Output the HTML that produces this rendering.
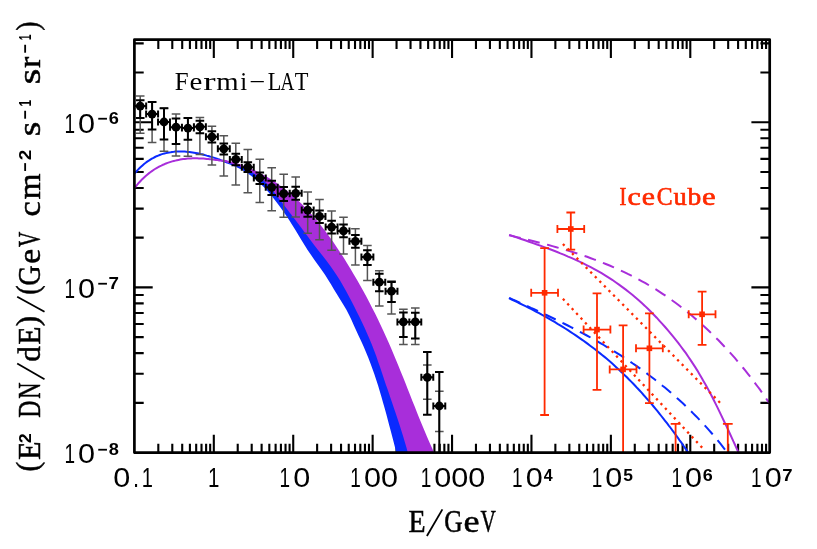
<!DOCTYPE html>
<html><head><meta charset="utf-8"><title>Fermi-LAT / IceCube spectrum</title>
<style>html,body{margin:0;padding:0;background:#fff}svg{display:block;will-change:transform}</style></head>
<body><svg width="817" height="549" viewBox="0 0 817 549">
<rect width="817" height="549" fill="#fff"/>
<path d="M158.31 452.6 V443.8 M158.31 39.6 V48.900000000000006 M172.29 452.6 V443.8 M172.29 39.6 V48.900000000000006 M182.21 452.6 V443.8 M182.21 39.6 V48.900000000000006 M189.91 452.6 V443.8 M189.91 39.6 V48.900000000000006 M196.19 452.6 V443.8 M196.19 39.6 V48.900000000000006 M201.51 452.6 V443.8 M201.51 39.6 V48.900000000000006 M206.12 452.6 V443.8 M206.12 39.6 V48.900000000000006 M210.18 452.6 V443.8 M210.18 39.6 V48.900000000000006 M213.81 452.6 V434.8 M213.81 39.6 V57.900000000000006 M237.72 452.6 V443.8 M237.72 39.6 V48.900000000000006 M251.70 452.6 V443.8 M251.70 39.6 V48.900000000000006 M261.62 452.6 V443.8 M261.62 39.6 V48.900000000000006 M269.32 452.6 V443.8 M269.32 39.6 V48.900000000000006 M275.61 452.6 V443.8 M275.61 39.6 V48.900000000000006 M280.92 452.6 V443.8 M280.92 39.6 V48.900000000000006 M285.53 452.6 V443.8 M285.53 39.6 V48.900000000000006 M289.59 452.6 V443.8 M289.59 39.6 V48.900000000000006 M293.23 452.6 V434.8 M293.23 39.6 V57.900000000000006 M317.13 452.6 V443.8 M317.13 39.6 V48.900000000000006 M331.11 452.6 V443.8 M331.11 39.6 V48.900000000000006 M341.04 452.6 V443.8 M341.04 39.6 V48.900000000000006 M348.73 452.6 V443.8 M348.73 39.6 V48.900000000000006 M355.02 452.6 V443.8 M355.02 39.6 V48.900000000000006 M360.34 452.6 V443.8 M360.34 39.6 V48.900000000000006 M364.94 452.6 V443.8 M364.94 39.6 V48.900000000000006 M369.00 452.6 V443.8 M369.00 39.6 V48.900000000000006 M372.64 452.6 V434.8 M372.64 39.6 V57.900000000000006 M396.54 452.6 V443.8 M396.54 39.6 V48.900000000000006 M410.53 452.6 V443.8 M410.53 39.6 V48.900000000000006 M420.45 452.6 V443.8 M420.45 39.6 V48.900000000000006 M428.14 452.6 V443.8 M428.14 39.6 V48.900000000000006 M434.43 452.6 V443.8 M434.43 39.6 V48.900000000000006 M439.75 452.6 V443.8 M439.75 39.6 V48.900000000000006 M444.35 452.6 V443.8 M444.35 39.6 V48.900000000000006 M448.42 452.6 V443.8 M448.42 39.6 V48.900000000000006 M452.05 452.6 V434.8 M452.05 39.6 V57.900000000000006 M475.96 452.6 V443.8 M475.96 39.6 V48.900000000000006 M489.94 452.6 V443.8 M489.94 39.6 V48.900000000000006 M499.86 452.6 V443.8 M499.86 39.6 V48.900000000000006 M507.56 452.6 V443.8 M507.56 39.6 V48.900000000000006 M513.84 452.6 V443.8 M513.84 39.6 V48.900000000000006 M519.16 452.6 V443.8 M519.16 39.6 V48.900000000000006 M523.77 452.6 V443.8 M523.77 39.6 V48.900000000000006 M527.83 452.6 V443.8 M527.83 39.6 V48.900000000000006 M531.46 452.6 V434.8 M531.46 39.6 V57.900000000000006 M555.37 452.6 V443.8 M555.37 39.6 V48.900000000000006 M569.35 452.6 V443.8 M569.35 39.6 V48.900000000000006 M579.27 452.6 V443.8 M579.27 39.6 V48.900000000000006 M586.97 452.6 V443.8 M586.97 39.6 V48.900000000000006 M593.26 452.6 V443.8 M593.26 39.6 V48.900000000000006 M598.57 452.6 V443.8 M598.57 39.6 V48.900000000000006 M603.18 452.6 V443.8 M603.18 39.6 V48.900000000000006 M607.24 452.6 V443.8 M607.24 39.6 V48.900000000000006 M610.88 452.6 V434.8 M610.88 39.6 V57.900000000000006 M634.78 452.6 V443.8 M634.78 39.6 V48.900000000000006 M648.76 452.6 V443.8 M648.76 39.6 V48.900000000000006 M658.69 452.6 V443.8 M658.69 39.6 V48.900000000000006 M666.38 452.6 V443.8 M666.38 39.6 V48.900000000000006 M672.67 452.6 V443.8 M672.67 39.6 V48.900000000000006 M677.99 452.6 V443.8 M677.99 39.6 V48.900000000000006 M682.59 452.6 V443.8 M682.59 39.6 V48.900000000000006 M686.65 452.6 V443.8 M686.65 39.6 V48.900000000000006 M690.29 452.6 V434.8 M690.29 39.6 V57.900000000000006 M714.19 452.6 V443.8 M714.19 39.6 V48.900000000000006 M728.18 452.6 V443.8 M728.18 39.6 V48.900000000000006 M738.10 452.6 V443.8 M738.10 39.6 V48.900000000000006 M745.79 452.6 V443.8 M745.79 39.6 V48.900000000000006 M752.08 452.6 V443.8 M752.08 39.6 V48.900000000000006 M757.40 452.6 V443.8 M757.40 39.6 V48.900000000000006 M762.00 452.6 V443.8 M762.00 39.6 V48.900000000000006 M766.07 452.6 V443.8 M766.07 39.6 V48.900000000000006 M134.4 402.87 H143.70000000000002 M769.7 402.87 H760.4000000000001 M134.4 373.78 H143.70000000000002 M769.7 373.78 H760.4000000000001 M134.4 353.14 H143.70000000000002 M769.7 353.14 H760.4000000000001 M134.4 337.13 H143.70000000000002 M769.7 337.13 H760.4000000000001 M134.4 324.05 H143.70000000000002 M769.7 324.05 H760.4000000000001 M134.4 312.99 H143.70000000000002 M769.7 312.99 H760.4000000000001 M134.4 303.41 H143.70000000000002 M769.7 303.41 H760.4000000000001 M134.4 294.96 H143.70000000000002 M769.7 294.96 H760.4000000000001 M134.4 287.40 H152.70000000000002 M769.7 287.40 H751.4000000000001 M134.4 237.67 H143.70000000000002 M769.7 237.67 H760.4000000000001 M134.4 208.58 H143.70000000000002 M769.7 208.58 H760.4000000000001 M134.4 187.94 H143.70000000000002 M769.7 187.94 H760.4000000000001 M134.4 171.93 H143.70000000000002 M769.7 171.93 H760.4000000000001 M134.4 158.85 H143.70000000000002 M769.7 158.85 H760.4000000000001 M134.4 147.79 H143.70000000000002 M769.7 147.79 H760.4000000000001 M134.4 138.21 H143.70000000000002 M769.7 138.21 H760.4000000000001 M134.4 129.76 H143.70000000000002 M769.7 129.76 H760.4000000000001 M134.4 122.20 H152.70000000000002 M769.7 122.20 H751.4000000000001 M134.4 72.47 H143.70000000000002 M769.7 72.47 H760.4000000000001 M134.4 43.38 H143.70000000000002 M769.7 43.38 H760.4000000000001" stroke="#000" stroke-width="2.1" fill="none"/>
<clipPath id="c"><rect x="134.4" y="39.6" width="635.3000000000001" height="413.0"/></clipPath>
<g clip-path="url(#c)">
<polygon points="224.9,162.7 230.6,164.7 236.1,166.9 241.3,169.5 246.3,172.5 251.1,175.8 255.7,179.4 260.1,183.4 264.3,187.6 268.3,192.0 272.1,196.5 275.8,201.2 279.4,205.9 282.8,210.7 286.1,215.5 289.3,220.3 292.4,225.2 295.4,230.1 298.4,235.0 301.4,239.9 304.5,244.9 307.6,249.9 310.9,254.8 314.3,259.8 317.9,264.8 321.5,269.7 325.0,274.7 328.1,279.7 331.1,284.6 334.0,289.6 337.1,294.6 340.3,299.7 343.4,304.7 346.4,309.8 349.1,314.9 351.5,320.1 353.8,325.3 356.2,330.5 358.6,335.8 361.1,341.1 363.6,346.4 365.9,351.9 368.1,357.3 370.3,362.9 372.3,368.4 374.3,374.0 376.1,379.6 378.0,385.3 379.7,391.0 381.4,396.7 383.0,402.4 384.6,408.1 386.2,413.8 387.7,419.5 389.2,425.2 390.7,430.8 392.2,436.5 393.7,442.2 395.1,447.8 396.6,453.4 433.5,454.6 430.9,448.8 428.3,442.9 425.7,437.0 423.2,431.1 420.8,425.3 418.4,419.4 416.0,413.5 413.7,407.6 411.3,401.7 409.0,395.8 406.7,390.0 404.4,384.1 402.1,378.2 399.7,372.4 397.3,366.5 394.9,360.7 392.5,354.9 390.0,349.1 387.5,343.3 384.9,337.5 382.3,331.7 379.6,326.0 376.9,320.3 374.1,314.6 371.2,308.9 368.3,303.3 365.3,297.6 362.3,292.0 359.2,286.5 356.1,280.9 352.8,275.4 349.6,270.0 346.2,264.5 342.9,259.1 339.4,253.7 335.9,248.4 332.3,243.1 328.6,237.9 324.8,232.8 320.9,227.8 317.0,222.8 312.9,218.0 308.7,213.3 304.5,208.7 300.0,204.2 295.5,199.9 290.8,195.7 286.0,191.7 281.1,187.9 276.0,184.2 270.8,180.7 265.4,177.4 259.9,174.4 254.2,171.5 248.4,168.9 242.4,166.5 236.3,164.3 230.1,162.4 223.6,160.8" fill="#0A2AFF"/>
<polygon points="224.9,162.2 230.8,163.6 236.5,165.4 242.2,167.5 247.8,170.0 253.1,172.9 258.1,176.2 262.9,179.9 267.2,184.1 271.2,188.6 274.9,193.3 278.6,198.2 282.3,203.0 286.0,207.8 289.6,212.6 293.3,217.3 296.9,222.0 300.5,226.7 304.0,231.5 307.6,236.2 311.1,240.9 314.7,245.7 318.4,250.5 322.2,255.3 326.1,260.2 329.8,265.2 333.3,270.2 336.7,275.2 339.9,280.3 342.9,285.5 345.9,290.7 348.7,295.9 351.5,301.2 354.2,306.5 356.9,311.9 359.6,317.3 362.2,322.7 364.8,328.2 367.2,333.7 369.6,339.3 371.9,344.8 374.1,350.4 376.2,356.0 378.1,361.7 380.1,367.3 382.0,373.0 383.9,378.7 385.8,384.4 387.8,390.1 389.8,395.9 391.7,401.6 393.7,407.4 395.6,413.1 397.6,418.9 399.5,424.7 401.3,430.4 403.1,436.2 404.8,442.0 406.5,447.7 408.0,453.5 434.5,453.6 431.9,447.8 429.3,441.9 426.7,436.0 424.2,430.1 421.8,424.3 419.4,418.4 417.0,412.5 414.7,406.6 412.3,400.7 410.0,394.8 407.7,389.0 405.4,383.1 403.1,377.2 400.7,371.4 398.3,365.5 395.9,359.7 393.5,353.9 391.0,348.1 388.5,342.3 385.9,336.5 383.3,330.7 380.6,325.0 377.9,319.3 375.1,313.6 372.2,307.9 369.3,302.3 366.3,296.6 363.3,291.0 360.2,285.5 357.1,279.9 353.8,274.4 350.6,269.0 347.2,263.5 343.9,258.1 340.4,252.7 336.9,247.4 333.3,242.1 329.6,236.9 325.8,231.8 321.9,226.8 318.0,221.8 313.9,217.0 309.7,212.3 305.5,207.7 301.0,203.2 296.5,198.9 291.8,194.7 287.0,190.7 282.1,186.9 277.0,183.2 271.8,179.7 266.4,176.4 260.9,173.4 255.2,170.5 249.4,167.9 243.4,165.5 237.3,163.3 231.1,161.4 224.6,159.8" fill="#A82EDA"/>
</g>
<path d="M134.7 173.3 L136.3 171.5 L137.8 169.9 L139.4 168.3 L141.0 166.8 L142.5 165.4 L144.1 164.0 L145.7 162.8 L147.2 161.6 L148.8 160.6 L150.3 159.6 L151.9 158.6 L153.5 157.8 L155.0 157.0 L156.6 156.2 L158.2 155.6 L159.7 155.0 L161.3 154.4 L162.9 153.9 L164.4 153.5 L166.0 153.1 L167.6 152.7 L169.1 152.4 L170.7 152.2 L172.2 151.9 L173.8 151.8 L175.4 151.6 L176.9 151.6 L178.5 151.5 L180.1 151.5 L181.6 151.5 L183.2 151.5 L184.8 151.6 L186.3 151.7 L187.9 151.9 L189.5 152.1 L191.0 152.3 L192.6 152.5 L194.1 152.7 L195.7 153.0 L197.3 153.3 L198.8 153.6 L200.4 154.0 L202.0 154.3 L203.5 154.7 L205.1 155.1 L206.7 155.6 L208.2 156.0 L209.8 156.5 L211.4 156.9 L212.9 157.4 L214.5 157.9 L216.0 158.4 L217.6 159.0 L219.2 159.5 L220.7 160.1 L222.3 160.6 L223.9 161.2 L225.4 161.7 L227.0 162.3" stroke="#0A2AFF" stroke-width="2" fill="none" stroke-linejoin="round"/>
<path d="M134.7 187.9 L136.3 185.9 L137.8 184.0 L139.4 182.2 L141.0 180.5 L142.5 178.9 L144.1 177.4 L145.7 176.0 L147.2 174.7 L148.8 173.4 L150.3 172.2 L151.9 171.1 L153.5 170.0 L155.0 169.0 L156.6 168.1 L158.2 167.2 L159.7 166.3 L161.3 165.6 L162.9 164.8 L164.4 164.2 L166.0 163.5 L167.6 162.9 L169.1 162.4 L170.7 161.9 L172.2 161.4 L173.8 161.0 L175.4 160.6 L176.9 160.2 L178.5 159.9 L180.1 159.6 L181.6 159.3 L183.2 159.1 L184.8 158.9 L186.3 158.7 L187.9 158.6 L189.5 158.5 L191.0 158.4 L192.6 158.3 L194.1 158.3 L195.7 158.3 L197.3 158.3 L198.8 158.4 L200.4 158.4 L202.0 158.5 L203.5 158.6 L205.1 158.7 L206.7 158.9 L208.2 159.0 L209.8 159.2 L211.4 159.3 L212.9 159.5 L214.5 159.7 L216.0 159.9 L217.6 160.1 L219.2 160.4 L220.7 160.6 L222.3 160.8 L223.9 161.0 L225.4 161.2 L227.0 161.4" stroke="#A82EDA" stroke-width="2" fill="none" stroke-linejoin="round"/>
<path d="M509.0 235.2 L513.0 236.1 L517.0 237.1 L520.9 238.0 L524.9 239.0 L528.8 240.0 L532.8 241.0 L536.7 242.0 L540.6 243.0 L544.5 244.0 L548.5 245.0 L552.4 246.1 L556.3 247.2 L560.2 248.3 L564.0 249.4 L567.9 250.6 L571.8 251.8 L575.6 253.0 L579.4 254.2 L583.2 255.5 L587.1 256.8 L590.8 258.2 L594.6 259.6 L598.4 261.0 L602.1 262.5 L605.8 264.0 L609.6 265.5 L613.2 267.1 L616.9 268.7 L620.6 270.4 L624.2 272.1 L627.8 273.9 L631.4 275.6 L635.0 277.5 L638.5 279.4 L642.0 281.3 L645.5 283.2 L649.0 285.3 L652.4 287.3 L655.9 289.4 L659.3 291.6 L662.6 293.8 L666.0 296.0 L669.3 298.3 L672.6 300.7 L675.8 303.0 L679.1 305.5 L682.3 307.9 L685.4 310.4 L688.6 313.0 L691.7 315.5 L694.8 318.2 L697.9 320.8 L700.9 323.5 L703.9 326.2 L706.9 329.0 L709.8 331.8 L712.7 334.6 L715.6 337.5 L718.5 340.3 L721.3 343.3 L724.1 346.2 L726.9 349.2 L729.6 352.2 L732.3 355.2 L735.0 358.2 L737.6 361.3 L740.2 364.4 L742.8 367.5 L745.4 370.6 L747.9 373.8 L750.4 376.9 L752.8 380.1 L755.2 383.3 L757.6 386.5 L760.0 389.7 L762.3 393.0 L764.6 396.2 L766.8 399.5 L769.1 402.8" stroke="#A82EDA" stroke-width="2" fill="none" stroke-dasharray="12 7.6"/>
<path d="M509.2 234.9 L513.2 236.2 L517.2 237.6 L521.2 239.0 L525.1 240.3 L529.1 241.7 L533.0 243.1 L537.0 244.5 L540.9 245.9 L544.9 247.4 L548.8 248.8 L552.7 250.3 L556.6 251.8 L560.4 253.4 L564.3 254.9 L568.1 256.6 L571.9 258.2 L575.7 259.9 L579.5 261.6 L583.3 263.4 L587.0 265.3 L590.7 267.2 L594.3 269.1 L598.0 271.1 L601.6 273.2 L605.1 275.3 L608.7 277.6 L612.2 279.8 L615.6 282.2 L619.0 284.6 L622.4 287.1 L625.8 289.6 L629.1 292.2 L632.3 294.8 L635.5 297.5 L638.7 300.3 L641.8 303.1 L644.9 305.9 L647.9 308.8 L650.9 311.7 L653.8 314.7 L656.7 317.7 L659.5 320.8 L662.3 323.8 L665.1 327.0 L667.8 330.1 L670.5 333.3 L673.2 336.6 L675.8 339.8 L678.4 343.1 L680.9 346.5 L683.4 349.8 L685.9 353.2 L688.3 356.7 L690.6 360.1 L692.9 363.6 L695.2 367.1 L697.4 370.6 L699.5 374.2 L701.6 377.8 L703.7 381.4 L705.8 385.0 L707.8 388.6 L709.7 392.3 L711.7 396.0 L713.6 399.7 L715.4 403.4 L717.3 407.1 L719.1 410.9 L720.9 414.6 L722.7 418.4 L724.5 422.2 L726.3 425.9 L728.1 429.7 L729.8 433.5 L731.6 437.3 L733.3 441.2 L735.1 445.0 L736.8 448.8 L738.6 452.6" stroke="#A82EDA" stroke-width="2" fill="none"/>
<path d="M509.3 297.8 L512.4 299.3 L515.5 300.7 L518.6 302.1 L521.7 303.5 L524.8 304.9 L527.9 306.3 L531.0 307.8 L534.1 309.2 L537.2 310.7 L540.2 312.1 L543.3 313.6 L546.4 315.0 L549.5 316.5 L552.6 318.0 L555.6 319.5 L558.7 321.0 L561.7 322.5 L564.8 324.0 L567.8 325.5 L570.9 327.1 L573.9 328.6 L576.9 330.2 L579.9 331.8 L582.9 333.4 L585.9 335.0 L588.9 336.6 L591.9 338.3 L594.9 339.9 L597.8 341.6 L600.8 343.3 L603.7 345.0 L606.6 346.8 L609.6 348.5 L612.5 350.3 L615.4 352.1 L618.3 353.9 L621.1 355.7 L624.0 357.6 L626.8 359.5 L629.7 361.3 L632.5 363.3 L635.3 365.2 L638.1 367.1 L640.9 369.1 L643.6 371.1 L646.4 373.1 L649.1 375.2 L651.8 377.2 L654.5 379.3 L657.2 381.4 L659.9 383.5 L662.5 385.7 L665.2 387.8 L667.8 390.0 L670.4 392.2 L673.0 394.5 L675.5 396.7 L678.1 399.0 L680.6 401.3 L683.1 403.6 L685.6 405.9 L688.0 408.3 L690.5 410.7 L692.9 413.1 L695.3 415.5 L697.7 417.9 L700.0 420.4 L702.4 422.9 L704.7 425.4 L707.0 427.9 L709.2 430.4 L711.5 433.0 L713.7 435.6 L715.9 438.2 L718.1 440.8 L720.2 443.4 L722.3 446.1 L724.4 448.8 L726.5 451.5" stroke="#0A2AFF" stroke-width="2" fill="none" stroke-dasharray="12 7.6"/>
<path d="M508.9 298.2 L511.7 299.5 L514.5 300.8 L517.3 302.1 L520.0 303.5 L522.8 304.8 L525.5 306.2 L528.3 307.5 L531.0 308.9 L533.7 310.3 L536.4 311.8 L539.1 313.2 L541.7 314.7 L544.4 316.1 L547.1 317.6 L549.7 319.1 L552.3 320.7 L555.0 322.2 L557.6 323.8 L560.2 325.3 L562.7 326.9 L565.3 328.5 L567.9 330.2 L570.4 331.8 L572.9 333.5 L575.4 335.2 L577.9 336.9 L580.4 338.6 L582.9 340.3 L585.4 342.1 L587.8 343.9 L590.2 345.7 L592.6 347.5 L595.0 349.3 L597.4 351.2 L599.8 353.1 L602.1 355.0 L604.5 356.9 L606.8 358.8 L609.1 360.8 L611.4 362.8 L613.6 364.8 L615.9 366.9 L618.1 368.9 L620.3 371.0 L622.5 373.1 L624.7 375.2 L626.9 377.3 L629.0 379.5 L631.2 381.6 L633.3 383.8 L635.4 386.0 L637.5 388.3 L639.6 390.5 L641.6 392.7 L643.6 395.0 L645.7 397.3 L647.7 399.6 L649.7 401.9 L651.7 404.2 L653.6 406.5 L655.6 408.9 L657.5 411.2 L659.4 413.6 L661.3 416.0 L663.2 418.4 L665.1 420.8 L667.0 423.2 L668.8 425.6 L670.7 428.0 L672.5 430.5 L674.3 432.9 L676.1 435.3 L677.9 437.8 L679.6 440.3 L681.4 442.7 L683.1 445.2 L684.8 447.7 L686.6 450.1 L688.3 452.6" stroke="#0A2AFF" stroke-width="2" fill="none"/>
<path d="M562.9 244.0 L721.8 404.5" stroke="#FF2A00" stroke-width="2.3" fill="none" stroke-dasharray="2.3 4.2"/>
<path d="M562.9 298.8 L704.5 450.1" stroke="#FF2A00" stroke-width="2.3" fill="none" stroke-dasharray="2.3 4.2"/>
<path d="M140.2 96.0 V133.3 M135.89999999999998 96.0 H144.5 M135.89999999999998 133.3 H144.5 M152.1 102.1 V142.5 M147.79999999999998 102.1 H156.4 M147.79999999999998 142.5 H156.4 M164.0 108.2 V151.2 M159.7 108.2 H168.3 M159.7 151.2 H168.3 M176.0 113.9 V156.0 M171.7 113.9 H180.3 M171.7 156.0 H180.3 M187.9 118.0 V156.2 M183.6 118.0 H192.20000000000002 M183.6 156.2 H192.20000000000002 M199.9 117.4 V154.6 M195.6 117.4 H204.20000000000002 M195.6 154.6 H204.20000000000002 M211.9 126.3 V165.0 M207.6 126.3 H216.20000000000002 M207.6 165.0 H216.20000000000002 M223.8 135.7 V176.1 M219.5 135.7 H228.10000000000002 M219.5 176.1 H228.10000000000002 M235.8 143.3 V184.9 M231.5 143.3 H240.10000000000002 M231.5 184.9 H240.10000000000002 M247.8 149.6 V192.8 M243.5 149.6 H252.10000000000002 M243.5 192.8 H252.10000000000002 M259.8 159.2 V202.6 M255.5 159.2 H264.1 M255.5 202.6 H264.1 M271.7 167.8 V210.8 M267.4 167.8 H276.0 M267.4 210.8 H276.0 M283.7 174.2 V217.3 M279.4 174.2 H288.0 M279.4 217.3 H288.0 M295.7 177.0 V216.9 M291.4 177.0 H300.0 M291.4 216.9 H300.0 M307.7 192.1 V233.2 M303.4 192.1 H312.0 M303.4 233.2 H312.0 M319.5 199.5 V239.7 M315.2 199.5 H323.8 M315.2 239.7 H323.8 M331.6 210.9 V250.3 M327.3 210.9 H335.90000000000003 M327.3 250.3 H335.90000000000003 M343.5 217.3 V254.0 M339.2 217.3 H347.8 M339.2 254.0 H347.8 M355.4 228.7 V264.9 M351.09999999999997 228.7 H359.7 M351.09999999999997 264.9 H359.7 M367.4 245.5 V280.6 M363.09999999999997 245.5 H371.7 M363.09999999999997 280.6 H371.7 M379.3 270.7 V305.9 M375.0 270.7 H383.6 M375.0 305.9 H383.6 M391.5 281.0 V313.9 M387.2 281.0 H395.8 M387.2 313.9 H395.8 M403.4 309.2 V344.6 M399.09999999999997 309.2 H407.7 M399.09999999999997 344.6 H407.7 M415.3 308.0 V344.6 M411.0 308.0 H419.6 M411.0 344.6 H419.6 M427.3 365.1 V399.3 M423.0 365.1 H431.6 M423.0 399.3 H431.6 M439.3 391.2 V431.4 M435.0 391.2 H443.6 M435.0 431.4 H443.6" stroke="#555555" stroke-width="1.5" fill="none"/>
<path d="M140.2 100.2 V118.0 M135.89999999999998 100.2 H144.5 M135.89999999999998 118.0 H144.5 M134.23999999999998 106.1 H146.16 M134.23999999999998 102.6 V109.6 M146.16 102.6 V109.6 M152.1 102.1 V129.6 M147.79999999999998 102.1 H156.4 M147.79999999999998 129.6 H156.4 M146.14 114.1 H158.06 M146.14 110.6 V117.6 M158.06 110.6 V117.6 M164.0 108.2 V139.4 M159.7 108.2 H168.3 M159.7 139.4 H168.3 M158.04 122.0 H169.96 M158.04 118.5 V125.5 M169.96 118.5 V125.5 M176.0 118.6 V144.0 M171.7 118.6 H180.3 M171.7 144.0 H180.3 M170.04 127.2 H181.96 M170.04 123.7 V130.7 M181.96 123.7 V130.7 M187.9 118.0 V139.8 M183.6 118.0 H192.20000000000002 M183.6 139.8 H192.20000000000002 M181.94 128.1 H193.86 M181.94 124.6 V131.6 M193.86 124.6 V131.6 M199.9 120.8 V133.3 M195.6 120.8 H204.20000000000002 M195.6 133.3 H204.20000000000002 M193.94 126.8 H205.86 M193.94 123.3 V130.3 M205.86 123.3 V130.3 M211.9 131.3 V142.6 M207.6 131.3 H216.20000000000002 M207.6 142.6 H216.20000000000002 M205.94 136.8 H217.86 M205.94 133.3 V140.3 M217.86 133.3 V140.3 M223.8 143.6 V154.6 M219.5 143.6 H228.10000000000002 M219.5 154.6 H228.10000000000002 M217.84 148.8 H229.76000000000002 M217.84 145.3 V152.3 M229.76000000000002 145.3 V152.3 M235.8 153.7 V165.3 M231.5 153.7 H240.10000000000002 M231.5 165.3 H240.10000000000002 M229.84 159.4 H241.76000000000002 M229.84 155.9 V162.9 M241.76000000000002 155.9 V162.9 M247.8 162.2 V172.0 M243.5 162.2 H252.10000000000002 M243.5 172.0 H252.10000000000002 M241.84 167.2 H253.76000000000002 M241.84 163.7 V170.7 M253.76000000000002 163.7 V170.7 M259.8 172.4 V184.0 M255.5 172.4 H264.1 M255.5 184.0 H264.1 M253.84 177.9 H265.76 M253.84 174.4 V181.4 M265.76 174.4 V181.4 M271.7 180.8 V195.1 M267.4 180.8 H276.0 M267.4 195.1 H276.0 M265.74 187.3 H277.65999999999997 M265.74 183.8 V190.8 M277.65999999999997 183.8 V190.8 M283.7 186.9 V201.0 M279.4 186.9 H288.0 M279.4 201.0 H288.0 M277.74 193.7 H289.65999999999997 M277.74 190.2 V197.2 M289.65999999999997 190.2 V197.2 M295.7 186.7 V199.8 M291.4 186.7 H300.0 M291.4 199.8 H300.0 M289.74 193.3 H301.65999999999997 M289.74 189.8 V196.8 M301.65999999999997 189.8 V196.8 M307.7 203.7 V216.7 M303.4 203.7 H312.0 M303.4 216.7 H312.0 M301.74 210.1 H313.65999999999997 M301.74 206.6 V213.6 M313.65999999999997 206.6 V213.6 M319.5 210.5 V223.1 M315.2 210.5 H323.8 M315.2 223.1 H323.8 M313.54 216.4 H325.46 M313.54 212.9 V219.9 M325.46 212.9 V219.9 M331.6 220.8 V233.6 M327.3 220.8 H335.90000000000003 M327.3 233.6 H335.90000000000003 M325.64000000000004 227.1 H337.56 M325.64000000000004 223.6 V230.6 M337.56 223.6 V230.6 M343.5 224.6 V237.2 M339.2 224.6 H347.8 M339.2 237.2 H347.8 M337.54 230.9 H349.46 M337.54 227.4 V234.4 M349.46 227.4 V234.4 M355.4 235.0 V247.8 M351.09999999999997 235.0 H359.7 M351.09999999999997 247.8 H359.7 M349.44 241.3 H361.35999999999996 M349.44 237.8 V244.8 M361.35999999999996 237.8 V244.8 M367.4 250.2 V264.9 M363.09999999999997 250.2 H371.7 M363.09999999999997 264.9 H371.7 M361.44 257.0 H373.35999999999996 M361.44 253.5 V260.5 M373.35999999999996 253.5 V260.5 M379.3 273.8 V291.2 M375.0 273.8 H383.6 M375.0 291.2 H383.6 M373.34000000000003 282.2 H385.26 M373.34000000000003 278.7 V285.7 M385.26 278.7 V285.7 M391.5 282.0 V301.9 M387.2 282.0 H395.8 M387.2 301.9 H395.8 M385.54 291.2 H397.46 M385.54 287.7 V294.7 M397.46 287.7 V294.7 M403.4 312.6 V336.9 M399.09999999999997 312.6 H407.7 M399.09999999999997 336.9 H407.7 M397.44 321.9 H409.35999999999996 M397.44 318.4 V325.4 M409.35999999999996 318.4 V325.4 M415.3 312.8 V338.5 M411.0 312.8 H419.6 M411.0 338.5 H419.6 M409.34000000000003 321.9 H421.26 M409.34000000000003 318.4 V325.4 M421.26 318.4 V325.4 M427.3 352.0 V414.8 M423.0 352.0 H431.6 M423.0 414.8 H431.6 M421.34000000000003 377.3 H433.26 M421.34000000000003 373.8 V380.8 M433.26 373.8 V380.8 M439.3 372.1 V452.5 M435.0 372.1 H443.6 M433.34000000000003 406.0 H445.26 M433.34000000000003 402.5 V409.5 M445.26 402.5 V409.5" stroke="#000" stroke-width="2" fill="none"/>
<circle cx="140.2" cy="106.1" r="4.4" fill="#000"/>
<circle cx="152.1" cy="114.1" r="4.4" fill="#000"/>
<circle cx="164.0" cy="122.0" r="4.4" fill="#000"/>
<circle cx="176.0" cy="127.2" r="4.4" fill="#000"/>
<circle cx="187.9" cy="128.1" r="4.4" fill="#000"/>
<circle cx="199.9" cy="126.8" r="4.4" fill="#000"/>
<circle cx="211.9" cy="136.8" r="4.4" fill="#000"/>
<circle cx="223.8" cy="148.8" r="4.4" fill="#000"/>
<circle cx="235.8" cy="159.4" r="4.4" fill="#000"/>
<circle cx="247.8" cy="167.2" r="4.4" fill="#000"/>
<circle cx="259.8" cy="177.9" r="4.4" fill="#000"/>
<circle cx="271.7" cy="187.3" r="4.4" fill="#000"/>
<circle cx="283.7" cy="193.7" r="4.4" fill="#000"/>
<circle cx="295.7" cy="193.3" r="4.4" fill="#000"/>
<circle cx="307.7" cy="210.1" r="4.4" fill="#000"/>
<circle cx="319.5" cy="216.4" r="4.4" fill="#000"/>
<circle cx="331.6" cy="227.1" r="4.4" fill="#000"/>
<circle cx="343.5" cy="230.9" r="4.4" fill="#000"/>
<circle cx="355.4" cy="241.3" r="4.4" fill="#000"/>
<circle cx="367.4" cy="257.0" r="4.4" fill="#000"/>
<circle cx="379.3" cy="282.2" r="4.4" fill="#000"/>
<circle cx="391.5" cy="291.2" r="4.4" fill="#000"/>
<circle cx="403.4" cy="321.9" r="4.4" fill="#000"/>
<circle cx="415.3" cy="321.9" r="4.4" fill="#000"/>
<circle cx="427.3" cy="377.3" r="4.4" fill="#000"/>
<circle cx="439.3" cy="406.0" r="4.4" fill="#000"/>
<rect x="541.8000000000001" y="290.0" width="5.6" height="5.6" fill="#FF2A00"/>
<rect x="568.0" y="226.2" width="5.6" height="5.6" fill="#FF2A00"/>
<rect x="594.2" y="326.8" width="5.6" height="5.6" fill="#FF2A00"/>
<rect x="620.3000000000001" y="366.59999999999997" width="5.6" height="5.6" fill="#FF2A00"/>
<rect x="646.6" y="345.5" width="5.6" height="5.6" fill="#FF2A00"/>
<rect x="699.3000000000001" y="311.5" width="5.6" height="5.6" fill="#FF2A00"/>
<path d="M544.6 248.1 V415.0 M540.2 248.1 H549.0 M540.2 415.0 H549.0 M531.2 292.8 H558.0 M531.2 288.8 V296.8 M558.0 288.8 V296.8 M570.8 212.5 V249.6 M566.4 212.5 H575.1999999999999 M566.4 249.6 H575.1999999999999 M557.4 229.0 H584.1999999999999 M557.4 225.0 V233.0 M584.1999999999999 225.0 V233.0 M597.0 293.4 V389.9 M592.6 293.4 H601.4 M592.6 389.9 H601.4 M583.6 329.6 H610.4 M583.6 325.6 V333.6 M610.4 325.6 V333.6 M623.1 325.3 V452.6 M618.7 325.3 H627.5 M609.7 369.4 H636.5 M609.7 365.4 V373.4 M636.5 365.4 V373.4 M649.4 313.4 V403.1 M645.0 313.4 H653.8 M645.0 403.1 H653.8 M636.0 348.3 H662.8 M636.0 344.3 V352.3 M662.8 344.3 V352.3 M702.1 291.6 V344.8 M697.7 291.6 H706.5 M697.7 344.8 H706.5 M688.7 314.3 H715.5 M688.7 310.3 V318.3 M715.5 310.3 V318.3 M675.6 423.8 V452.6 M670.7 423.8 H680.5 M727.8 423.8 V452.6 M722.9 423.8 H732.6999999999999" stroke="#FF2A00" stroke-width="1.8" fill="none"/>
<rect x="134.4" y="39.6" width="635.3000000000001" height="413.0" fill="none" stroke="#000" stroke-width="2.7" stroke-linejoin="round"/>
<path d="M426.9 536.0 L442.4 509.4" stroke="#000" stroke-width="1.8" fill="none"/>
<text transform="translate(113.24 487.40) scale(1.133 1)" font-family="Liberation Sans, sans-serif" font-size="27.0" fill="#000" >0</text>
<text transform="translate(132.89 487.40) scale(0.813 1)" font-family="Liberation Sans, sans-serif" font-size="27.0" fill="#000" >.</text>
<text transform="translate(141.74 487.40) scale(0.744 1)" font-family="Liberation Sans, sans-serif" font-size="27.0" fill="#000" >1</text>
<text transform="translate(208.12 487.40) scale(0.760 1)" font-family="Liberation Sans, sans-serif" font-size="27.0" fill="#000" >1</text>
<text transform="translate(279.61 487.40) scale(0.703 1)" font-family="Liberation Sans, sans-serif" font-size="27.0" fill="#000" >1</text>
<text transform="translate(293.24 487.40) scale(1.133 1)" font-family="Liberation Sans, sans-serif" font-size="27.0" fill="#000" >0</text>
<text transform="translate(350.31 487.40) scale(0.703 1)" font-family="Liberation Sans, sans-serif" font-size="27.0" fill="#000" >1</text>
<text transform="translate(363.94 487.40) scale(1.133 1)" font-family="Liberation Sans, sans-serif" font-size="27.0" fill="#000" >0</text>
<text transform="translate(380.94 487.40) scale(1.133 1)" font-family="Liberation Sans, sans-serif" font-size="27.0" fill="#000" >0</text>
<text transform="translate(420.81 487.40) scale(0.703 1)" font-family="Liberation Sans, sans-serif" font-size="27.0" fill="#000" >1</text>
<text transform="translate(434.34 487.40) scale(1.133 1)" font-family="Liberation Sans, sans-serif" font-size="27.0" fill="#000" >0</text>
<text transform="translate(451.34 487.40) scale(1.133 1)" font-family="Liberation Sans, sans-serif" font-size="27.0" fill="#000" >0</text>
<text transform="translate(468.34 487.40) scale(1.133 1)" font-family="Liberation Sans, sans-serif" font-size="27.0" fill="#000" >0</text>
<text transform="translate(512.01 487.40) scale(0.703 1)" font-family="Liberation Sans, sans-serif" font-size="27.0" fill="#000" >1</text>
<text transform="translate(525.64 487.40) scale(1.133 1)" font-family="Liberation Sans, sans-serif" font-size="27.0" fill="#000" >0</text>
<text transform="translate(543.80 480.60) scale(0.970 1)" font-family="Liberation Sans, sans-serif" font-size="16.5" font-weight="bold" fill="#000" >4</text>
<text transform="translate(591.71 487.40) scale(0.703 1)" font-family="Liberation Sans, sans-serif" font-size="27.0" fill="#000" >1</text>
<text transform="translate(605.34 487.40) scale(1.133 1)" font-family="Liberation Sans, sans-serif" font-size="27.0" fill="#000" >0</text>
<text transform="translate(623.23 480.60) scale(1.058 1)" font-family="Liberation Sans, sans-serif" font-size="16.5" font-weight="bold" fill="#000" >5</text>
<text transform="translate(671.41 487.40) scale(0.703 1)" font-family="Liberation Sans, sans-serif" font-size="27.0" fill="#000" >1</text>
<text transform="translate(685.04 487.40) scale(1.133 1)" font-family="Liberation Sans, sans-serif" font-size="27.0" fill="#000" >0</text>
<text transform="translate(702.64 480.60) scale(1.091 1)" font-family="Liberation Sans, sans-serif" font-size="16.5" font-weight="bold" fill="#000" >6</text>
<text transform="translate(751.01 487.40) scale(0.703 1)" font-family="Liberation Sans, sans-serif" font-size="27.0" fill="#000" >1</text>
<text transform="translate(764.64 487.40) scale(1.133 1)" font-family="Liberation Sans, sans-serif" font-size="27.0" fill="#000" >0</text>
<text transform="translate(782.22 480.60) scale(1.126 1)" font-family="Liberation Sans, sans-serif" font-size="16.5" font-weight="bold" fill="#000" >7</text>
<text transform="translate(64.41 132.60) scale(0.703 1)" font-family="Liberation Sans, sans-serif" font-size="27.0" fill="#000" >1</text>
<text transform="translate(78.04 132.60) scale(1.133 1)" font-family="Liberation Sans, sans-serif" font-size="27.0" fill="#000" >0</text>
<text transform="translate(97.45 124.20) scale(1.058 1)" font-family="Liberation Sans, sans-serif" font-size="16.5" font-weight="bold" fill="#000" >−</text>
<text transform="translate(108.63 124.20) scale(1.103 1)" font-family="Liberation Sans, sans-serif" font-size="16.5" font-weight="bold" fill="#000" >6</text>
<text transform="translate(64.41 297.75) scale(0.703 1)" font-family="Liberation Sans, sans-serif" font-size="27.0" fill="#000" >1</text>
<text transform="translate(78.04 297.75) scale(1.133 1)" font-family="Liberation Sans, sans-serif" font-size="27.0" fill="#000" >0</text>
<text transform="translate(97.45 289.35) scale(1.058 1)" font-family="Liberation Sans, sans-serif" font-size="16.5" font-weight="bold" fill="#000" >−</text>
<text transform="translate(108.61 289.35) scale(1.139 1)" font-family="Liberation Sans, sans-serif" font-size="16.5" font-weight="bold" fill="#000" >7</text>
<text transform="translate(64.41 462.90) scale(0.703 1)" font-family="Liberation Sans, sans-serif" font-size="27.0" fill="#000" >1</text>
<text transform="translate(78.04 462.90) scale(1.133 1)" font-family="Liberation Sans, sans-serif" font-size="27.0" fill="#000" >0</text>
<text transform="translate(97.45 454.50) scale(1.058 1)" font-family="Liberation Sans, sans-serif" font-size="16.5" font-weight="bold" fill="#000" >−</text>
<text transform="translate(108.63 454.50) scale(1.103 1)" font-family="Liberation Sans, sans-serif" font-size="16.5" font-weight="bold" fill="#000" >8</text>
<text transform="translate(174.66 90.00) scale(0.985 1)" font-family="Liberation Serif, serif" font-size="25.3" fill="#000" >F</text>
<text transform="translate(189.50 90.00) scale(1.143 1)" font-family="Liberation Serif, serif" font-size="25.3" fill="#000" >e</text>
<text transform="translate(203.22 90.00) scale(1.467 1)" font-family="Liberation Serif, serif" font-size="25.3" fill="#000" >r</text>
<text transform="translate(216.35 90.00) scale(1.138 1)" font-family="Liberation Serif, serif" font-size="25.3" fill="#000" >m</text>
<text transform="translate(240.31 90.00) scale(0.980 1)" font-family="Liberation Serif, serif" font-size="25.3" fill="#000" >i</text>
<text transform="translate(249.27 90.00) scale(1.121 1)" font-family="Liberation Serif, serif" font-size="25.3" fill="#000" >−</text>
<text transform="translate(267.85 90.00) scale(0.882 1)" font-family="Liberation Serif, serif" font-size="25.3" fill="#000" >L</text>
<text transform="translate(280.40 90.00) scale(0.759 1)" font-family="Liberation Serif, serif" font-size="25.3" fill="#000" >A</text>
<text transform="translate(294.75 90.00) scale(0.885 1)" font-family="Liberation Serif, serif" font-size="25.3" fill="#000" >T</text>
<text transform="translate(619.46 205.10) scale(0.806 1)" font-family="Liberation Serif, serif" font-size="25.6" fill="#FF2A00" stroke="#FF2A00" stroke-width="0.65">I</text>
<text transform="translate(627.57 205.10) scale(1.160 1)" font-family="Liberation Serif, serif" font-size="25.6" fill="#FF2A00" stroke="#FF2A00" stroke-width="0.65">c</text>
<text transform="translate(641.67 205.10) scale(1.160 1)" font-family="Liberation Serif, serif" font-size="25.6" fill="#FF2A00" stroke="#FF2A00" stroke-width="0.65">e</text>
<text transform="translate(656.66 205.10) scale(0.928 1)" font-family="Liberation Serif, serif" font-size="25.6" fill="#FF2A00" stroke="#FF2A00" stroke-width="0.65">C</text>
<text transform="translate(673.50 205.10) scale(1.032 1)" font-family="Liberation Serif, serif" font-size="25.6" fill="#FF2A00" stroke="#FF2A00" stroke-width="0.65">u</text>
<text transform="translate(687.60 205.10) scale(1.075 1)" font-family="Liberation Serif, serif" font-size="25.6" fill="#FF2A00" stroke="#FF2A00" stroke-width="0.65">b</text>
<text transform="translate(702.04 205.10) scale(1.200 1)" font-family="Liberation Serif, serif" font-size="25.6" fill="#FF2A00" stroke="#FF2A00" stroke-width="0.65">e</text>
<text transform="translate(408.46 531.70) scale(0.902 1)" font-family="Liberation Serif, serif" font-size="31.0" fill="#000" stroke="#000" stroke-width="0.5">E</text>
<text transform="translate(444.20 531.70) scale(0.821 1)" font-family="Liberation Serif, serif" font-size="31.0" fill="#000" stroke="#000" stroke-width="0.5">G</text>
<text transform="translate(463.47 531.70) scale(1.164 1)" font-family="Liberation Serif, serif" font-size="31.0" fill="#000" stroke="#000" stroke-width="0.5">e</text>
<text transform="translate(480.50 531.70) scale(0.687 1)" font-family="Liberation Serif, serif" font-size="31.0" fill="#000" stroke="#000" stroke-width="0.5">V</text>
<g transform="translate(39.9 470.5) rotate(-90)">
<text transform="translate(-0.91 -1.60) scale(0.941 1)" font-family="Liberation Serif, serif" font-size="31.0" fill="#000" stroke="#000" stroke-width="0.5">(</text>
<text transform="translate(10.73 0.00) scale(0.961 1)" font-family="Liberation Serif, serif" font-size="31.0" fill="#000" stroke="#000" stroke-width="0.5">E</text>
<text transform="translate(27.34 -8.60) scale(1.059 1)" font-family="Liberation Sans, sans-serif" font-size="17.0" font-weight="bold" fill="#000" >2</text>
<text transform="translate(52.83 0.00) scale(0.763 1)" font-family="Liberation Serif, serif" font-size="31.0" fill="#000" stroke="#000" stroke-width="0.5">D</text>
<text transform="translate(71.75 0.00) scale(0.727 1)" font-family="Liberation Serif, serif" font-size="31.0" fill="#000" stroke="#000" stroke-width="0.5">N</text>
<text transform="translate(108.72 0.00) scale(1.012 1)" font-family="Liberation Serif, serif" font-size="31.0" fill="#000" stroke="#000" stroke-width="0.5">d</text>
<text transform="translate(125.94 0.00) scale(0.950 1)" font-family="Liberation Serif, serif" font-size="31.0" fill="#000" stroke="#000" stroke-width="0.5">E</text>
<text transform="translate(144.34 -1.60) scale(0.996 1)" font-family="Liberation Serif, serif" font-size="31.0" fill="#000" stroke="#000" stroke-width="0.5">)</text>
<text transform="translate(175.82 -1.60) scale(0.906 1)" font-family="Liberation Serif, serif" font-size="31.0" fill="#000" stroke="#000" stroke-width="0.5">(</text>
<text transform="translate(184.82 0.00) scale(0.907 1)" font-family="Liberation Serif, serif" font-size="31.0" fill="#000" stroke="#000" stroke-width="0.5">G</text>
<text transform="translate(206.85 0.00) scale(1.082 1)" font-family="Liberation Serif, serif" font-size="31.0" fill="#000" stroke="#000" stroke-width="0.5">e</text>
<text transform="translate(223.50 0.00) scale(0.682 1)" font-family="Liberation Serif, serif" font-size="31.0" fill="#000" stroke="#000" stroke-width="0.5">V</text>
<text transform="translate(254.03 0.00) scale(1.107 1)" font-family="Liberation Serif, serif" font-size="31.0" fill="#000" stroke="#000" stroke-width="0.5">c</text>
<text transform="translate(270.98 0.00) scale(1.084 1)" font-family="Liberation Serif, serif" font-size="31.0" fill="#000" stroke="#000" stroke-width="0.5">m</text>
<text transform="translate(298.91 -8.60) scale(0.924 1)" font-family="Liberation Sans, sans-serif" font-size="17.0" font-weight="bold" fill="#000" >−</text>
<text transform="translate(310.21 -8.60) scale(1.118 1)" font-family="Liberation Sans, sans-serif" font-size="17.0" font-weight="bold" fill="#000" >2</text>
<text transform="translate(334.23 0.00) scale(1.209 1)" font-family="Liberation Serif, serif" font-size="31.0" fill="#000" stroke="#000" stroke-width="0.5">s</text>
<text transform="translate(351.30 -8.60) scale(0.935 1)" font-family="Liberation Sans, sans-serif" font-size="17.0" font-weight="bold" fill="#000" >−</text>
<text transform="translate(363.95 -8.60) scale(0.703 1)" font-family="Liberation Sans, sans-serif" font-size="17.0" font-weight="bold" fill="#000" >1</text>
<text transform="translate(386.15 0.00) scale(1.288 1)" font-family="Liberation Serif, serif" font-size="31.0" fill="#000" stroke="#000" stroke-width="0.5">s</text>
<text transform="translate(402.47 0.00) scale(1.094 1)" font-family="Liberation Serif, serif" font-size="31.0" fill="#000" stroke="#000" stroke-width="0.5">r</text>
<text transform="translate(417.20 -8.60) scale(0.935 1)" font-family="Liberation Sans, sans-serif" font-size="17.0" font-weight="bold" fill="#000" >−</text>
<text transform="translate(430.15 -8.60) scale(0.615 1)" font-family="Liberation Sans, sans-serif" font-size="17.0" font-weight="bold" fill="#000" >1</text>
<text transform="translate(439.84 -1.60) scale(0.887 1)" font-family="Liberation Serif, serif" font-size="31.0" fill="#000" stroke="#000" stroke-width="0.5">)</text>
<path d="M91.2 4.6 L107.0 -22.7" stroke="#000" stroke-width="1.8" fill="none"/>
<path d="M158.7 4.6 L173.8 -22.7" stroke="#000" stroke-width="1.8" fill="none"/>
</g>
</svg></body></html>
